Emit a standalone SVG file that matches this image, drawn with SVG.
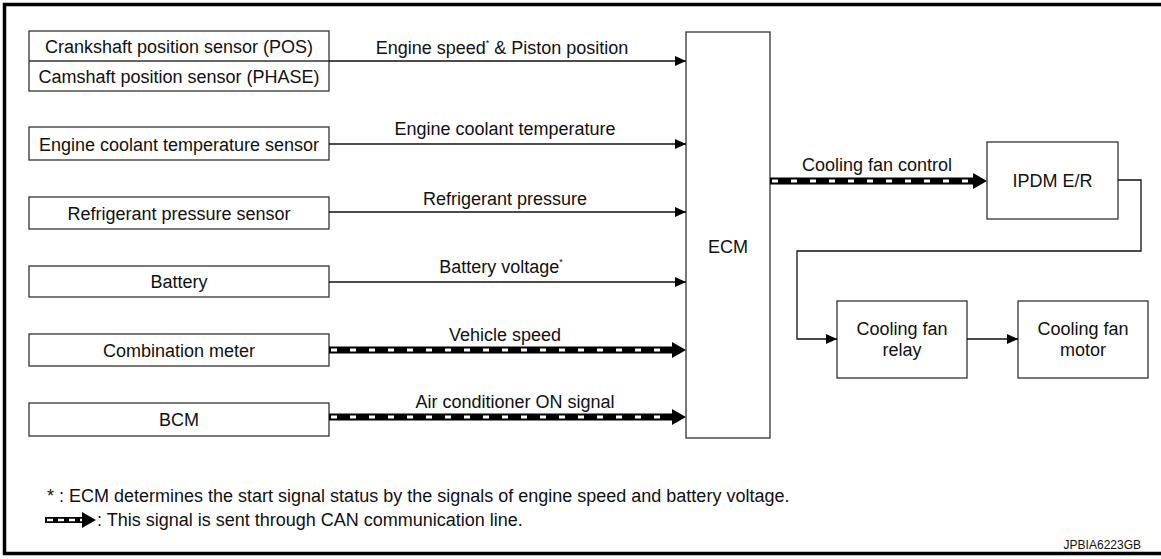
<svg xmlns="http://www.w3.org/2000/svg" width="1161" height="559" viewBox="0 0 1161 559">
<defs>
<marker id="ah" markerWidth="11" markerHeight="10" refX="11" refY="5" orient="auto" markerUnits="userSpaceOnUse">
<path d="M0,0 L11,5 L0,10 Z" fill="#000"/>
</marker>
<style>
text{font-family:"Liberation Sans",Arial,Helvetica,sans-serif;fill:#111;}
.t{font-size:18px;text-anchor:middle;}
.sm{font-size:18px;}
.box{fill:#fff;stroke:#333;stroke-width:1.3;}
.ln{fill:none;stroke:#111;stroke-width:1.3;}
.canb{fill:none;stroke:#000;stroke-width:7;}
.canw{fill:none;stroke:#fff;stroke-width:3;stroke-dasharray:6 13;}
.ast{font-size:9px;}
</style>
</defs>
<rect width="1161" height="559" fill="#fff"/>
<path d="M1161,4.5 H4.5 V553.5 H1161" fill="none" stroke="#000" stroke-width="3.5"/>

<g id="crank-cam">
<rect class="box" x="29" y="31" width="300" height="60"/>
<line x1="29" y1="61" x2="329" y2="61" stroke="#333" stroke-width="1.3"/>
<text class="t" x="179" y="53">Crankshaft position sensor (POS)</text>
<text class="t" x="179" y="83">Camshaft position sensor (PHASE)</text>
</g>
<g id="coolant">
<rect class="box" x="29" y="127" width="300" height="33"/>
<text class="t" x="179" y="151">Engine coolant temperature sensor</text>
</g>
<g id="refrig">
<rect class="box" x="29" y="197" width="300" height="32"/>
<text class="t" x="179" y="219.5">Refrigerant pressure sensor</text>
</g>
<g id="battery">
<rect class="box" x="29" y="266" width="300" height="31"/>
<text class="t" x="179" y="288">Battery</text>
</g>
<g id="combi">
<rect class="box" x="29" y="334" width="300" height="32"/>
<text class="t" x="179" y="356.5">Combination meter</text>
</g>
<g id="bcm">
<rect class="box" x="29" y="403" width="300" height="33"/>
<text class="t" x="179" y="425.5">BCM</text>
</g>
<g id="ecm">
<rect class="box" x="686" y="32" width="84" height="406"/>
<text class="t" x="728" y="253">ECM</text>
</g>
<g id="ipdm">
<rect class="box" x="987" y="142" width="131" height="77"/>
<text class="t" x="1052.5" y="187">IPDM E/R</text>
</g>
<g id="relay">
<rect class="box" x="837" y="301" width="130" height="77"/>
<text class="t" x="902" y="335">Cooling fan</text>
<text class="t" x="902" y="356">relay</text>
</g>
<g id="motor">
<rect class="box" x="1018" y="301" width="130" height="77"/>
<text class="t" x="1083" y="335">Cooling fan</text>
<text class="t" x="1083" y="356">motor</text>
</g>

<g id="connectors">
<line class="ln" x1="329" y1="61" x2="686" y2="61" marker-end="url(#ah)"/>
<line class="ln" x1="329" y1="144" x2="686" y2="144" marker-end="url(#ah)"/>
<line class="ln" x1="329" y1="212" x2="686" y2="212" marker-end="url(#ah)"/>
<line class="ln" x1="329" y1="282" x2="686" y2="282" marker-end="url(#ah)"/>
<line class="canb" x1="329" y1="350" x2="673" y2="350"/>
<line class="canw" x1="331" y1="350" x2="673" y2="350"/>
<path d="M672,342 L686,350 L672,358 Z" fill="#000"/>
<line class="canb" x1="329" y1="417" x2="673" y2="417"/>
<line class="canw" x1="331" y1="417" x2="673" y2="417"/>
<path d="M672,409 L686,417 L672,425 Z" fill="#000"/>
<line class="canb" x1="770" y1="181" x2="974" y2="181"/>
<line class="canw" x1="772" y1="181" x2="974" y2="181"/>
<path d="M973,173 L987,181 L973,189 Z" fill="#000"/>
<path class="ln" d="M1118,180 H1141 V251 H797 V339 H837" marker-end="url(#ah)"/>
<line class="ln" x1="967" y1="339" x2="1018" y2="339" marker-end="url(#ah)"/>
<text class="t" x="502" y="54">Engine speed<tspan class="ast" dy="-8">*</tspan><tspan dy="8"> &amp; Piston position</tspan></text>
<text class="t" x="505" y="135">Engine coolant temperature</text>
<text class="t" x="505" y="205">Refrigerant pressure</text>
<text class="t" x="501" y="273">Battery voltage<tspan class="ast" dy="-8">*</tspan></text>
<text class="t" x="505" y="341">Vehicle speed</text>
<text class="t" x="515" y="408">Air conditioner ON signal</text>
<text class="t" x="877" y="171">Cooling fan control</text>
</g>

<g id="legend">
<text class="sm" x="47" y="502">* : ECM determines the start signal status by the signals of engine speed and battery voltage.</text>
<line x1="45" y1="520" x2="83" y2="520" stroke="#000" stroke-width="6"/>
<line x1="47" y1="520" x2="83" y2="520" stroke="#fff" stroke-width="2.5" stroke-dasharray="6 5"/>
<path d="M82,512 L96,520 L82,528 Z" fill="#000"/>
<text class="sm" x="97" y="526">: This signal is sent through CAN communication line.</text>
<text x="1141" y="549" style="font-size:12px;text-anchor:end;">JPBIA6223GB</text>
</g>
</svg>
